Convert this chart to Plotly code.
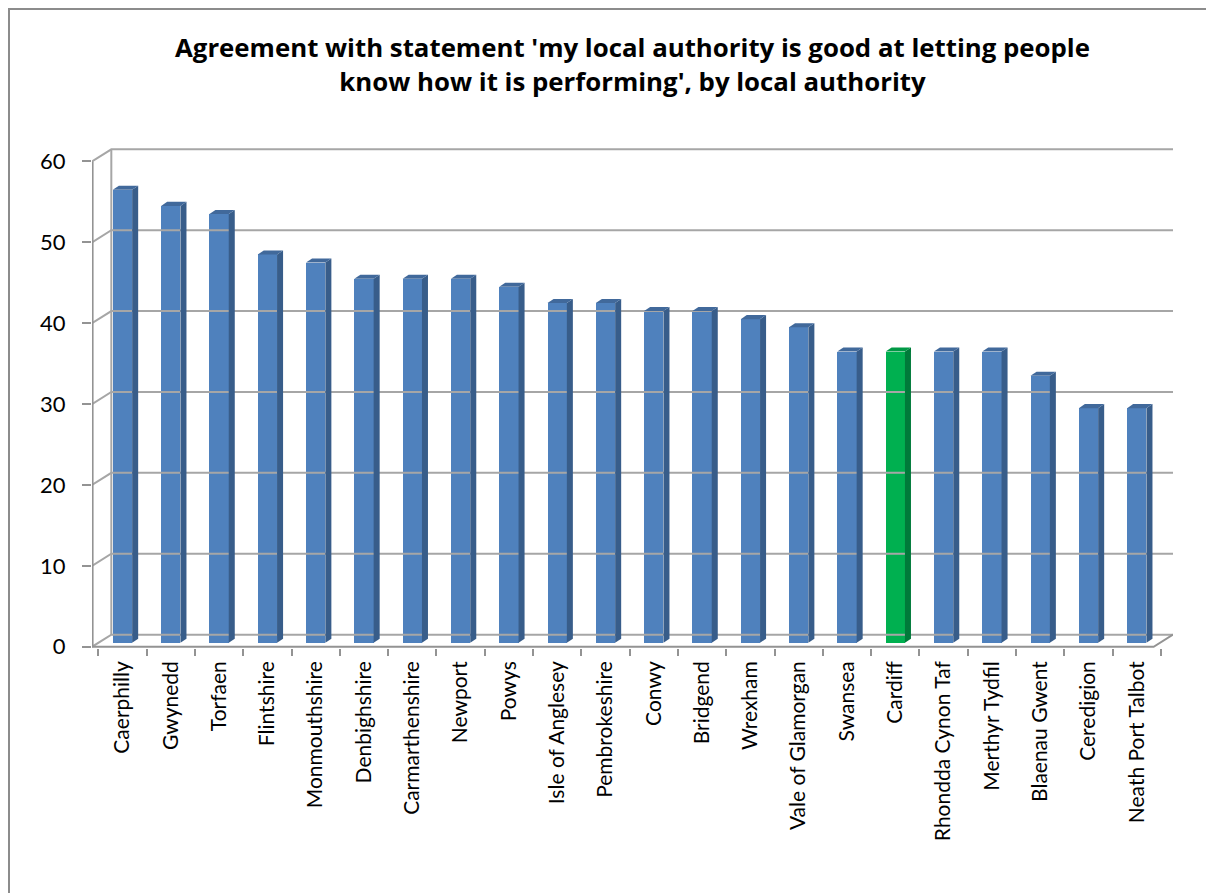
import plotly.graph_objects as go

categories = ["Caerphilly", "Gwynedd", "Torfaen", "Flintshire", "Monmouthshire",
              "Denbighshire", "Carmarthenshire", "Newport", "Powys", "Isle of Anglesey",
              "Pembrokeshire", "Conwy", "Bridgend", "Wrexham", "Vale of Glamorgan",
              "Swansea", "Cardiff", "Rhondda Cynon Taf", "Merthyr Tydfil",
              "Blaenau Gwent", "Ceredigion", "Neath Port Talbot"]
values = [56, 54, 53, 48, 47, 45, 45, 45, 44, 42, 42, 41, 41, 40, 39, 36, 36, 36, 36, 33, 29, 29]
highlight = "Cardiff"
y_ticks = [0, 10, 20, 30, 40, 50, 60]

# styling / geometry (page has an 8px body margin, figure sized to fit)
W, H = 1206, 885
ML, MR, MT, MB = 84, 41, 134, 245
XL, XR = -0.631, 21.75          # x range (category units)
YB, YT = -0.15, 62.4            # y range
bar_w = 0.40
sdx, sdy = 0.125, 0.5           # bar depth offset
wdx, wdy = 0.40, 1.5            # back wall offset
bz = 0.5                        # bars sit slightly behind the front plane
grid_col = "#A6A6A6"
axis_col = "#939393"

front_cols = ["#00B050" if c == highlight else "#4F81BD" for c in categories]
side_cols = ["#007A3A" if c == highlight else "#385D8A" for c in categories]
top_cols = ["#009945" if c == highlight else "#41699B" for c in categories]

fig = go.Figure()

# back wall gridlines with perspective diagonal
gx, gy = [], []
for v in y_ticks:
    gx += [XL, XL + wdx, XR, None]
    gy += [v, v + wdy, v + wdy, None]
fig.add_trace(go.Scatter(x=gx, y=gy, mode="lines", line=dict(color=grid_col, width=2),
                         hoverinfo="skip", showlegend=False))
# back wall left edge
fig.add_trace(go.Scatter(x=[XL + wdx, XL + wdx], y=[y_ticks[0] + wdy, y_ticks[-1] + wdy],
                         mode="lines", line=dict(color=grid_col, width=2),
                         hoverinfo="skip", showlegend=False))
# front axes
fig.add_trace(go.Scatter(x=[XL + 0.012, XL + 0.012], y=[y_ticks[0], y_ticks[-1]], mode="lines",
                         line=dict(color=axis_col, width=2), hoverinfo="skip", showlegend=False))
fig.add_trace(go.Scatter(x=[XL, XR - wdx, XR], y=[0, 0, wdy], mode="lines",
                         line=dict(color=axis_col, width=2), hoverinfo="skip", showlegend=False))

# bars: front faces
idx = list(range(len(categories)))
fig.add_trace(go.Bar(x=idx, y=values, base=[bz] * len(values), width=bar_w,
                     marker=dict(color=front_cols, line=dict(width=0)),
                     hovertext=categories, showlegend=False))

# side and top faces
for i, v in enumerate(values):
    xr = i + bar_w / 2
    xl = i - bar_w / 2
    t = v + bz
    fig.add_trace(go.Scatter(x=[xr, xr + sdx, xr + sdx, xr, xr], y=[bz, bz + sdy, t + sdy, t, bz],
                             fill="toself", fillcolor=side_cols[i], mode="lines",
                             line=dict(width=0, color=side_cols[i]), hoverinfo="skip", showlegend=False))
    fig.add_trace(go.Scatter(x=[xl, xl + sdx, xr + sdx, xr, xl], y=[t, t + sdy, t + sdy, t, t],
                             fill="toself", fillcolor=top_cols[i], mode="lines",
                             line=dict(width=0, color=top_cols[i]), hoverinfo="skip", showlegend=False))

pw = W - ML - MR
ph = H - MT - MB
fig.update_layout(
    width=W, height=H,
    margin=dict(l=ML, r=MR, t=MT, b=MB),
    paper_bgcolor="white", plot_bgcolor="white",
    font=dict(family="Lato, Open Sans, sans-serif", color="black"),
    title=dict(text="Agreement with statement 'my local authority is good at letting people<br>know how it is performing', by local authority",
               x=0.5, xanchor="center", xref="paper", y=1 - 49 / H, yanchor="top",
               font=dict(size=25.8, family="Open Sans", color="black", weight="bold")),
    bargap=0,
    shapes=[dict(type="rect", xref="paper", yref="paper",
                 x0=(1 - ML) / pw, x1=1 + (MR + 50) / pw, y0=-(MB + 50) / ph, y1=1 + (MT - 1) / ph,
                 line=dict(color="#8C8C8C", width=2))],
)
fig.update_xaxes(range=[XL, XR], tickvals=idx, ticktext=categories, tickangle=-90,
                 ticks="", showgrid=False, zeroline=False, showline=False,
                 ticklabelstandoff=8,
                 tickfont=dict(size=21, family="Lato", color="black"),
                 minor=dict(tick0=0.5, dtick=1, ticks="outside", ticklen=7, tickcolor=axis_col,
                            tickwidth=2, showgrid=False))
fig.update_yaxes(range=[YB, YT], tickvals=y_ticks, ticks="outside", ticklen=9, tickcolor=axis_col,
                 tickwidth=2, showgrid=False, zeroline=False, showline=False,
                 ticklabelstandoff=12,
                 tickfont=dict(size=22, family="Lato", color="black"))

fig.write_html("out.html")
